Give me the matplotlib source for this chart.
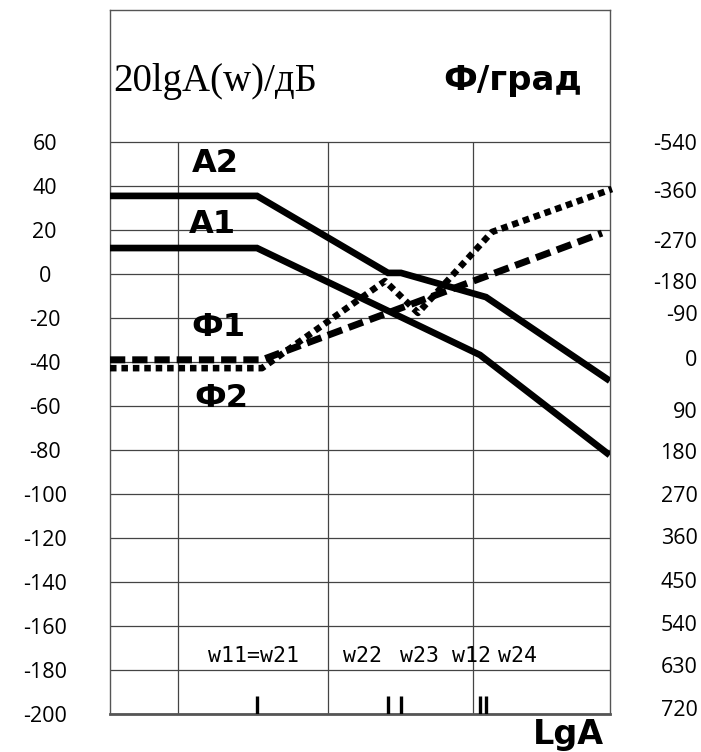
import numpy as np
import matplotlib.pyplot as plt

# corner frequencies (lg w units)
w11 = 2.94   # = w21
w22 = 5.56
w23 = 5.82
w12 = 7.40
w24 = 7.52
x_end = 9.94

# amplitude curves, dB
a2_x = [0, w11, w22, w23, w24, x_end]
a2_y = [35.5, 35.5, 0.5, 0.5, -10.5, -47.7]
a1_x = [0, w11, w12, x_end]
a1_y = [11.8, 11.8, -36.8, -81.4]

# phase curves (drawn in the dB scale of the left axis)
f1_x = [0, 3.04, 9.84]
f1_y = [-39.0, -39.0, 18.6]
f2_x = [0, 3.04, 5.50, 6.16, 7.64, 10.04]
f2_y = [-42.8, -42.8, -3.2, -17.7, 19.1, 38.6]

# grid
db_ticks = list(range(-200, 61, 20))
x_grid = [1.36, 4.36, 7.26]

# right axis: phase labels and where they sit on the dB scale
phase_labels = ['-540', '-360', '-270', '-180', '-90', '0', '90', '180',
                '270', '360', '450', '540', '630', '720']
phase_pos = [60, 38.2, 15.5, -3.2, -17.7, -38.2, -61.8, -80.5,
             -100, -119.1, -139.1, -158.6, -177.7, -197.3]

freq_names = ['w11=w21', 'w22', 'w23', 'w12', 'w24']
freq_name_x = [2.86, 5.05, 6.18, 7.22, 8.16]
marks = [w11, w22, w23, w12, w24]

fig = plt.figure(figsize=(7.01, 7.52), dpi=100)
ax = fig.add_axes([110 / 701, 38 / 752, 500 / 701, 704 / 752])
ax.set_xlim(0, 10)
ax.set_ylim(-200, 120)

grid_kw = dict(color='#444444', lw=0.9, zorder=1)
ax.hlines(db_ticks, 0, 10, **grid_kw)
ax.vlines(x_grid, -200, 60, **grid_kw)

for s in ax.spines.values():
    s.set_color('#555555')
    s.set_linewidth(1.0)
ax.spines['bottom'].set_linewidth(2.0)

ax.plot(a2_x, a2_y, color='black', lw=4.8, solid_joinstyle='miter', zorder=3)
ax.plot(a1_x, a1_y, color='black', lw=4.8, solid_joinstyle='miter', zorder=3)
ax.plot(f1_x, f1_y, color='black', lw=5, linestyle=(0, (2.2, 1.0)),
        dash_capstyle='butt', zorder=3)
ax.plot(f2_x, f2_y, color='black', lw=4.7, linestyle=(0, (1.0, 0.75)),
        dash_capstyle='butt', zorder=3, clip_on=False)

ax.vlines(marks, -200, -191.8, color='black', lw=2.4, zorder=4)

ax.set_xticks([])
ax.set_yticks(db_ticks)
ax.set_yticklabels([str(v) for v in db_ticks], fontsize=15.5, family='Open Sans')
ax.tick_params(axis='y', length=0, pad=47)
for lab in ax.get_yticklabels():
    lab.set_ha('center')

ax2 = ax.twinx()
ax2.set_ylim(ax.get_ylim())
ax2.set_yticks(phase_pos)
ax2.set_yticklabels(phase_labels, fontsize=15.5, family='Open Sans')
ax2.tick_params(axis='y', length=0, pad=63)
for lab in ax2.get_yticklabels():
    lab.set_ha('right')
for s in ax2.spines.values():
    s.set_visible(False)

ax.text(0.06, 87.3, '20lgA(w)/дБ', family='Liberation Serif', fontsize=28,
        ha='left', va='center')
ax.text(8.06, 88, 'Ф/град', family='DejaVu Sans', fontweight='bold',
        fontsize=24.5, ha='center', va='center')

lab_kw = dict(family='DejaVu Sans', fontweight='bold', fontsize=23,
              ha='center', va='center', zorder=5)
ax.text(2.1, 50, 'A2', **lab_kw)
ax.text(2.04, 22.3, 'A1', **lab_kw)
ax.text(2.16, -24.5, 'Ф1', **lab_kw)
ax.text(2.22, -56.4, 'Ф2', **lab_kw)

for name, x in zip(freq_names, freq_name_x):
    ax.text(x, -173.5, name, family='DejaVu Sans Mono', fontsize=15.5,
            ha='center', va='center')

ax.text(9.16, -209.5, 'LgA', family='DejaVu Sans', fontweight='bold',
        fontsize=24, ha='center', va='center', clip_on=False)

fig.savefig('out.png', dpi=100)
